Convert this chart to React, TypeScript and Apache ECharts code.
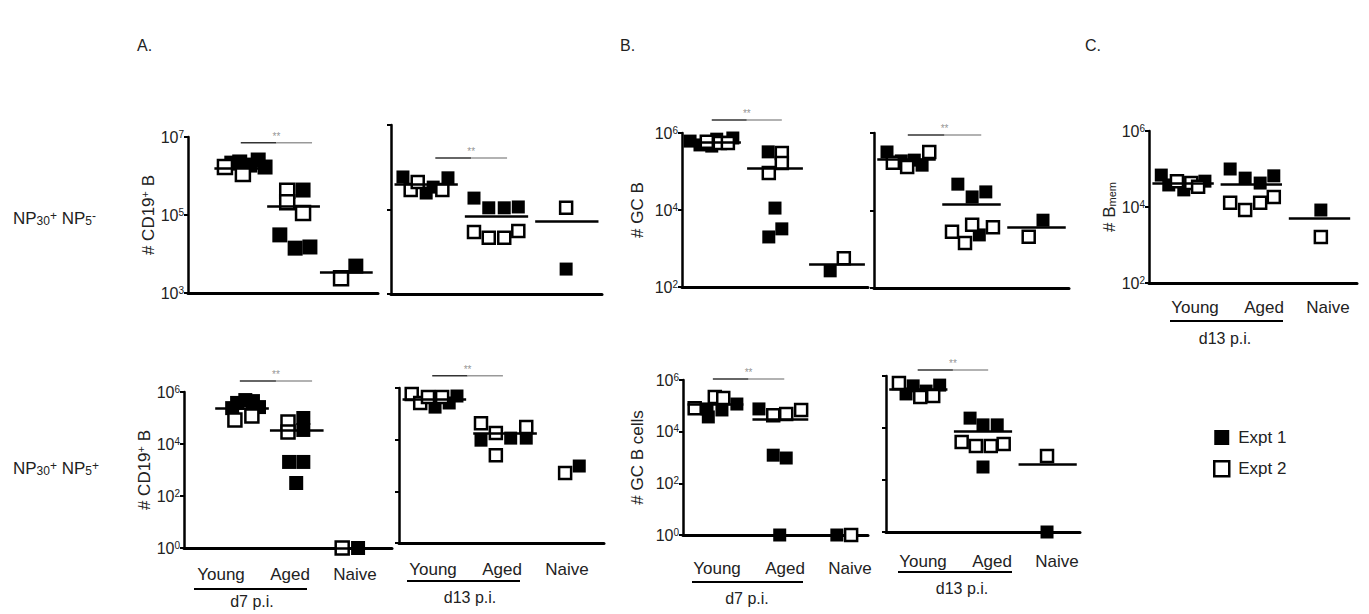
import React, { useEffect, useRef } from "react";
import * as echarts from "echarts";

const FONT = '"Liberation Sans", Arial, Helvetica, sans-serif';
const TXT = "#222";

// ---------- DATA ----------
// x: group position (1 = Young, 2 = Aged, 3 = Naive, with the plotted jitter)
// y: log10(cell count)
const groupLabels = ["Young", "Aged", "Naive"];
const seriesNames = ["Expt 1", "Expt 2"];

const atlExpt1 = [[0.83, 6.33], [0.98, 6.36], [1.17, 6.28], [1.33, 6.41], [1.46, 6.23], [2.18, 5.64], [1.74, 4.49], [2.03, 4.15], [2.31, 4.18], [3.18, 3.69]];
const atlExpt2 = [[0.7, 6.23], [1.04, 6.05], [1.88, 5.62], [1.88, 5.33], [2.18, 5.05], [2.9, 3.38]];
const atlMeans = [6.2, 5.23, 3.54];

const atrExpt1 = [[0.67, 5.77], [1.0, 5.39], [1.1, 5.53], [1.31, 5.75], [1.68, 5.27], [1.89, 5.04], [2.11, 5.04], [2.31, 5.06], [2.99, 3.59]];
const atrExpt2 = [[0.78, 5.46], [0.88, 5.65], [1.23, 5.46], [1.68, 4.47], [1.89, 4.33], [2.11, 4.33], [2.31, 4.49], [2.99, 5.04]];
const atrMeans = [5.6, 4.85, 4.73];

const ablExpt1 = [[0.91, 5.58], [1.06, 5.69], [1.2, 5.65], [1.31, 5.42], [0.82, 5.38], [2.12, 5.0], [2.12, 4.54], [1.86, 3.31], [2.12, 3.31], [1.99, 2.5], [3.12, 0]];
const ablExpt2 = [[0.87, 4.92], [1.18, 5.08], [1.84, 4.85], [1.84, 4.46], [2.83, 0]];
const ablMeans = [5.38, 4.54, 0];

const abrExpt1 = [[1.01, 5.26], [1.21, 5.42], [1.32, 5.69], [1.66, 3.98], [2.08, 4.06], [2.3, 4.06], [3.05, 2.98]];
const abrExpt2 = [[0.68, 5.77], [0.8, 5.42], [0.91, 5.65], [1.11, 5.65], [1.66, 4.64], [1.87, 4.26], [1.87, 3.4], [2.3, 4.49], [2.85, 2.71]];
const abrMeans = [5.57, 4.26, 2.9];

const btlExpt1 = [[0.63, 5.79], [0.79, 5.69], [0.98, 5.66], [1.06, 5.84], [1.32, 5.87], [1.89, 5.51], [2.0, 4.05], [2.11, 3.51], [1.9, 3.3], [2.89, 2.42]];
const btlExpt2 = [[0.9, 5.77], [1.11, 5.74], [1.24, 5.74], [2.11, 5.48], [2.11, 5.22], [1.9, 4.96], [3.11, 2.75]];
const btlMeans = [5.77, 5.09, 2.6];

const btrExpt1 = [[0.7, 5.51], [0.92, 5.28], [1.12, 5.3], [1.24, 5.17], [1.79, 4.68], [2.01, 4.35], [2.22, 4.48], [2.12, 3.37], [3.1, 3.75]];
const btrExpt2 = [[0.79, 5.23], [1.01, 5.12], [1.35, 5.51], [1.7, 3.45], [1.9, 3.16], [2.01, 3.63], [2.33, 3.57], [2.88, 3.32]];
const btrMeans = [5.33, 4.17, 3.57];

const bblExpt1 = [[0.87, 4.88], [0.89, 4.57], [1.1, 4.84], [1.33, 5.07], [1.67, 4.88], [1.89, 3.09], [2.09, 2.98], [1.99, 0], [2.87, 0]];
const bblExpt2 = [[0.68, 4.91], [0.99, 5.34], [1.12, 5.3], [1.89, 4.64], [2.09, 4.68], [2.32, 4.84], [3.09, 0]];
const bblMeans = [5.07, 4.49, 0];

const bbrExpt1 = [[0.81, 5.31], [0.92, 5.62], [1.12, 5.42], [1.33, 5.65], [1.8, 4.38], [2.0, 4.12], [2.22, 4.12], [2.0, 2.5], [2.99, 0]];
const bbrExpt2 = [[0.7, 5.73], [1.03, 5.19], [1.23, 5.23], [1.67, 3.46], [1.89, 3.31], [2.12, 3.31], [2.32, 3.38], [2.99, 2.92]];
const bbrMeans = [5.5, 3.88, 2.62];

const cExpt1 = [[0.68, 4.84], [0.79, 4.58], [1.01, 4.45], [1.32, 4.68], [1.69, 5.0], [1.91, 4.76], [2.13, 4.63], [2.33, 4.82], [3.02, 3.92]];
const cExpt2 = [[0.91, 4.68], [1.12, 4.63], [1.22, 4.53], [1.69, 4.11], [1.91, 3.92], [2.13, 4.11], [2.33, 4.26], [3.02, 3.21]];
const cMeans = [4.63, 4.61, 3.71];

// significance bars: [from x, to x, log10 level]
const atlSig = [1.0, 2.35, 6.85];
const atrSig = [1.13, 2.15, 6.22];
const ablSig = [0.96, 2.28, 6.42];
const abrSig = [0.97, 1.97, 6.47];
const btlSig = [0.98, 2.11, 6.34];
const btrSig = [1.02, 2.15, 5.95];
const bblSig = [0.96, 2.06, 6.04];
const bbrSig = [0.99, 2.08, 6.23];

// ---------- LAYOUT ----------
type Panel = {
  left: number; top: number; width: number; height: number;
  xMin: number; xMax: number; yMin: number; yMax: number;
  labels: boolean; yName?: string; nameGap?: number;
  size: number; half: number;
  e1: number[][]; e2: number[][]; means: number[]; sig?: number[];
};

const panels: Panel[] = [
  { left: 188, top: 137, width: 190, height: 156, xMin: 0, xMax: 3.6, yMin: 3, yMax: 7, labels: true, yName: "# CD19{sup|+} B", nameGap: 30, size: 15, half: 0.5, e1: atlExpt1, e2: atlExpt2, means: atlMeans, sig: atlSig },
  { left: 391, top: 125, width: 211, height: 169, xMin: 0.5, xMax: 3.5, yMin: 3, yMax: 7, labels: false, size: 13, half: 0.45, e1: atrExpt1, e2: atrExpt2, means: atrMeans, sig: atrSig },
  { left: 184, top: 392, width: 208, height: 156, xMin: -0.06, xMax: 3.74, yMin: 0, yMax: 6, labels: true, yName: "# CD19{sup|+} B", nameGap: 29, size: 14, half: 0.49, e1: ablExpt1, e2: ablExpt2, means: ablMeans, sig: ablSig },
  { left: 399, top: 388, width: 205, height: 155, xMin: 0.5, xMax: 3.4, yMin: 0, yMax: 6, labels: false, size: 13, half: 0.45, e1: abrExpt1, e2: abrExpt2, means: abrMeans, sig: abrSig },
  { left: 682, top: 133, width: 186, height: 154, xMin: 0.5, xMax: 3.5, yMin: 2, yMax: 6, labels: true, yName: "# GC B", nameGap: 36, size: 13, half: 0.45, e1: btlExpt1, e2: btlExpt2, means: btlMeans, sig: btlSig },
  { left: 874, top: 133, width: 195, height: 155, xMin: 0.5, xMax: 3.5, yMin: 2, yMax: 6, labels: false, size: 13, half: 0.45, e1: btrExpt1, e2: btrExpt2, means: btrMeans, sig: btrSig },
  { left: 683, top: 380, width: 185, height: 155, xMin: 0.5, xMax: 3.35, yMin: 0, yMax: 6, labels: true, yName: "# GC B cells", nameGap: 37, size: 13, half: 0.43, e1: bblExpt1, e2: bblExpt2, means: bblMeans, sig: bblSig },
  { left: 886, top: 376, width: 194, height: 156, xMin: 0.5, xMax: 3.5, yMin: 0, yMax: 6, labels: false, size: 13, half: 0.45, e1: bbrExpt1, e2: bbrExpt2, means: bbrMeans, sig: bbrSig },
  { left: 1149, top: 131, width: 208, height: 152, xMin: 0.5, xMax: 3.55, yMin: 2, yMax: 6, labels: true, yName: "# B{sub|mem}", nameGap: 31, size: 13, half: 0.45, e1: cExpt1, e2: cExpt2, means: cMeans },
];

const xLabelBlocks = [
  { xs: [221, 290, 355], y: 574, line: [194, 307, 589], tpX: 252, tpY: 601, tp: "d7 p.i." },
  { xs: [433, 502, 567], y: 569, line: [407, 520, 581], tpX: 470, tpY: 597, tp: "d13 p.i." },
  { xs: [717, 785, 850], y: 568, line: [692, 803, 582], tpX: 747, tpY: 598, tp: "d7 p.i." },
  { xs: [923, 992, 1057], y: 561, line: [898, 1012, 572], tpX: 962, tpY: 588, tp: "d13 p.i." },
  { xs: [1195, 1264, 1328], y: 307, line: [1170, 1283, 321], tpX: 1225, tpY: 338, tp: "d13 p.i." },
];

const richSup = { fontSize: 10, verticalAlign: "top", fontFamily: FONT, color: TXT, lineHeight: 10 };
const richSub = { fontSize: 10, verticalAlign: "bottom", fontFamily: FONT, color: TXT, lineHeight: 10 };

function buildOption() {
  const grid: any[] = [];
  const xAxis: any[] = [];
  const yAxis: any[] = [];
  const series: any[] = [];

  panels.forEach((p, i) => {
    grid.push({ left: p.left, top: p.top, width: p.width, height: p.height, containLabel: false });
    xAxis.push({
      type: "value", gridIndex: i, min: p.xMin, max: p.xMax,
      axisLine: { show: true, onZero: false, lineStyle: { color: "#000", width: 3 } },
      axisTick: { show: false }, axisLabel: { show: false }, splitLine: { show: false },
    });
    yAxis.push({
      type: "value", gridIndex: i, min: 0, max: p.yMax - p.yMin, interval: 2,
      axisLine: { show: true, onZero: false, lineStyle: { color: "#000", width: 2.5 } },
      axisTick: { show: true, length: 4, lineStyle: { color: "#000", width: 2 } },
      splitLine: { show: false },
      axisLabel: {
        show: p.labels, margin: 4, fontSize: 16, color: TXT, fontFamily: FONT,
        formatter: (v: number) => `10{sup|${Math.round(v + p.yMin)}}`,
        rich: { sup: richSup },
      },
      name: p.yName || "", nameLocation: "middle", nameRotate: 90, nameGap: p.nameGap || 30,
      nameTextStyle: { fontSize: 17, color: TXT, fontFamily: FONT, rich: { sup: { ...richSup, fontSize: 11 }, sub: { ...richSub, fontSize: 11 } } },
    });

    const sh = (pts: number[][]) => pts.map(([x, y]) => [x, y - p.yMin]);
    const meanLines = p.means.map((m, g) => [
      { coord: [g + 1 - p.half, m - p.yMin] },
      { coord: [g + 1 + p.half, m - p.yMin] },
    ]);

    series.push({
      type: "scatter", name: seriesNames[0], xAxisIndex: i, yAxisIndex: i, clip: false,
      symbol: "rect", symbolSize: p.size, data: sh(p.e1),
      itemStyle: { color: "#000", borderColor: "#000", borderWidth: 0, opacity: 1 },
      markLine: {
        silent: true, symbol: ["none", "none"], animation: false,
        label: { show: false },
        lineStyle: { color: "#000", width: 2.5, type: "solid" },
        data: meanLines,
      },
      z: 3,
    });
    series.push({
      type: "scatter", name: seriesNames[1], xAxisIndex: i, yAxisIndex: i, clip: false,
      symbol: "rect", symbolSize: p.size - 1, data: sh(p.e2),
      itemStyle: { color: "#fff", borderColor: "#000", borderWidth: 2.5, opacity: 1 },
      z: 3,
    });
    if (p.sig) {
      const [a, b, lv] = p.sig;
      const mid = (a + b) / 2;
      const y = lv - p.yMin;
      series.push({
        type: "line", name: "sigL", xAxisIndex: i, yAxisIndex: i, clip: false, silent: true,
        symbol: "none", data: [[a, y], [mid, y]],
        lineStyle: { color: "#333", width: 1.5 }, z: 4,
      });
      series.push({
        type: "line", name: "sigR", xAxisIndex: i, yAxisIndex: i, clip: false, silent: true,
        symbol: "none", data: [[mid, y], [b, y]],
        lineStyle: { color: "#999", width: 1.5 }, z: 4,
      });
      series.push({
        type: "scatter", name: "sig", xAxisIndex: i, yAxisIndex: i, clip: false,
        symbol: "rect", symbolSize: 1, itemStyle: { color: "rgba(0,0,0,0)" },
        data: [[mid, y]], silent: true,
        label: { show: true, position: "top", distance: 1, formatter: "**", fontSize: 10, color: "#777", fontFamily: FONT },
        z: 4,
      });
    }
  });

  const graphic: any[] = [];
  const txt = (text: string, x: number, y: number, size: number, align = "center", extra: any = {}) => ({
    type: "text", x, y, silent: true,
    style: { text, fontSize: size, fontFamily: FONT, fill: TXT, align, verticalAlign: "middle", ...extra },
  });
  graphic.push(txt("A.", 137, 45, 16, "left"));
  graphic.push(txt("B.", 620, 45, 16, "left"));
  graphic.push(txt("C.", 1085, 45, 16, "left"));

  const rowRich = {
    sub: { fontSize: 12, verticalAlign: "bottom", fontFamily: FONT, fill: TXT, lineHeight: 12 },
    sup: { fontSize: 12, verticalAlign: "top", fontFamily: FONT, fill: TXT, lineHeight: 12 },
  };
  graphic.push(txt("NP{sub|30}{sup|+} NP{sub|5}{sup|-}", 13, 218, 17, "left", { rich: rowRich }));
  graphic.push(txt("NP{sub|30}{sup|+} NP{sub|5}{sup|+}", 13, 468, 17, "left", { rich: rowRich }));

  xLabelBlocks.forEach((b) => {
    b.xs.forEach((x, k) => graphic.push(txt(groupLabels[k], x, b.y, 17)));
    graphic.push({
      type: "line", silent: true,
      shape: { x1: b.line[0], y1: b.line[2], x2: b.line[1], y2: b.line[2] },
      style: { stroke: "#000", lineWidth: 2 },
    });
    graphic.push(txt(b.tp, b.tpX, b.tpY, 16));
  });

  return {
    animation: false,
    backgroundColor: "#fff",
    textStyle: { fontFamily: FONT },
    grid, xAxis, yAxis, series, graphic,
    legend: {
      data: [
        { name: "Expt 1", itemStyle: { color: "#000", borderWidth: 0 } },
        { name: "Expt 2", itemStyle: { color: "#fff", borderColor: "#000", borderWidth: 2.5 } },
      ],
      orient: "vertical", left: 1213, top: 429, padding: 0, itemWidth: 15, itemHeight: 15, itemGap: 14,
      selectedMode: false,
      textStyle: { fontSize: 17, color: TXT, fontFamily: FONT, padding: [0, 0, 0, 4] },
    },
  };
}

export default function App() {
  const ref = useRef<HTMLDivElement>(null);
  useEffect(() => {
    const chart = echarts.init(ref.current as HTMLDivElement, null, { renderer: "svg" });
    chart.setOption(buildOption() as any);
    return () => chart.dispose();
  }, []);
  return <div ref={ref} style={{ position: "absolute", left: 0, top: 0, width: 1369, height: 614 }} />;
}
